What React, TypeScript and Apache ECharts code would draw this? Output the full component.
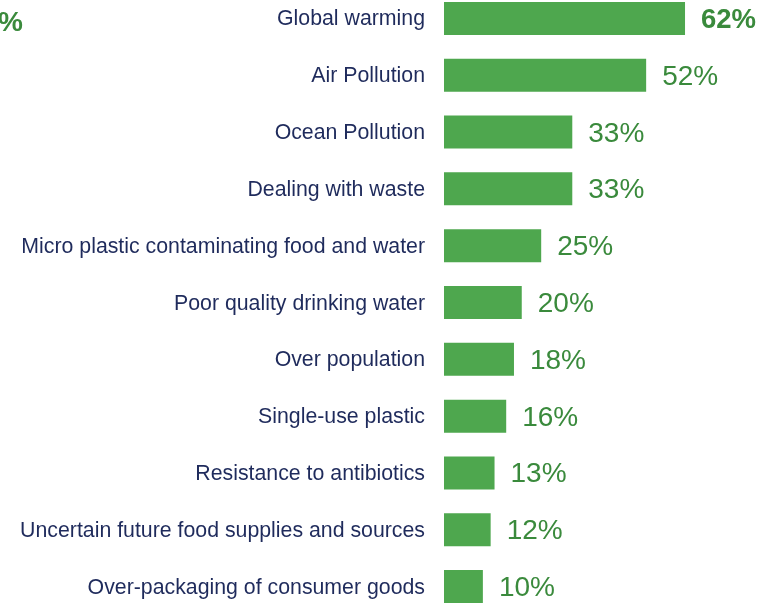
import React, { useEffect, useRef } from "react";
import * as echarts from "echarts";

const categories = [
  "Global warming",
  "Air Pollution",
  "Ocean Pollution",
  "Dealing with waste",
  "Micro plastic contaminating food and water",
  "Poor quality drinking water",
  "Over population",
  "Single-use plastic",
  "Resistance to antibiotics",
  "Uncertain future food supplies and sources",
  "Over-packaging of consumer goods",
];
const values = [62, 52, 33, 33, 25, 20, 18, 16, 13, 12, 10];
const cornerText = "62%";

const OFFSET = 10;

export default function App() {
  const ref = useRef<HTMLDivElement>(null);
  useEffect(() => {
    const chart = echarts.init(ref.current!, null, { renderer: "svg" });
    chart.setOption({
      animation: false,
      grid: { left: 444, width: 311, top: 0, bottom: 0, containLabel: false },
      xAxis: { type: "value", min: 0, max: 80, show: false },
      yAxis: {
        type: "category",
        inverse: true,
        data: categories,
        axisLine: { show: false },
        axisTick: { show: false },
        axisLabel: {
          margin: 19,
          color: "#1f2b5c",
          fontSize: 21.3,
          fontFamily: "Liberation Sans, Arial, sans-serif",
        },
      },
      series: [
        {
          type: "bar",
          data: values.map((v, i) => ({
            value: v,
            label: i === 0 ? { fontWeight: "bold", fontSize: 27.5 } : undefined,
          })),
          barWidth: 33,
          itemStyle: { color: "#4ea74e" },
          label: {
            show: true,
            position: "right",
            distance: 16,
            formatter: "{c}%",
            color: "#3a8a3c",
            fontSize: 28,
            fontFamily: "Liberation Sans, Arial, sans-serif",
          },
        },
      ],
      graphic: [
        {
          type: "text",
          x: 23,
          y: 21 + OFFSET,
          style: {
            text: cornerText,
            textAlign: "right",
            textVerticalAlign: "middle",
            fill: "#3a8a3c",
            fontSize: 28,
            fontWeight: "bold",
            fontFamily: "Liberation Sans, Arial, sans-serif",
          },
        },
      ],
    });
    return () => chart.dispose();
  }, []);
  return (
    <div
      ref={ref}
      style={{ width: 762, height: 625, position: "fixed", left: 0, top: -OFFSET }}
    />
  );
}
